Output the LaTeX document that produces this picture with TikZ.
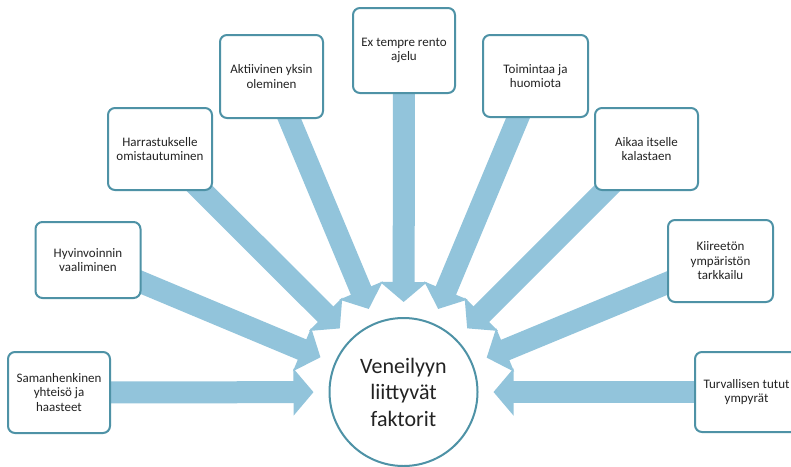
\documentclass[tikz,border=0pt]{standalone}
\usepackage{fontspec}
\setmainfont{Carlito}
\usetikzlibrary{arrows.meta}
\definecolor{arrowblue}{RGB}{146,196,219}
\definecolor{boxedge}{RGB}{78,146,166}
\definecolor{txt}{RGB}{35,35,35}
\begin{document}
\begin{tikzpicture}[x=1pt,y=-1pt,
  factorbox/.style={draw=boxedge, line width=2pt, fill=white, rounded corners=7pt,
    align=center, font=\fontsize{13}{14.5}\selectfont, text=txt, inner sep=2pt},
  bigarrow/.style={draw=arrowblue, line width=22pt,
    -{Triangle[width=46pt,length=20pt]}, shorten >=90pt}]
\useasboundingbox (0,0) rectangle (791,466);
\clip (0,0) rectangle (791,466);
\fill[white] (0,0) rectangle (791,466);
% hub
\coordinate (hubc) at (403.5,392);
% boxes (placed first as coordinates for arrows)
\coordinate (p1) at (59,392.5);
\coordinate (p2) at (88,260);
\coordinate (p3) at (160,149);
\coordinate (p4) at (271.5,76.5);
\coordinate (p5) at (404,50.5);
\coordinate (p6) at (535.5,76);
\coordinate (p7) at (646.5,149);
\coordinate (p8) at (720.5,261);
\coordinate (p9) at (746.5,392);
% arrows
\foreach \i in {1,...,9}{\draw[bigarrow] (p\i) -- (hubc);}
% boxes
\node[factorbox, minimum width=102pt, minimum height=81pt] (b1) at (p1) {Samanhenkinen\\yhteisö ja\\haasteet};
\node[factorbox, minimum width=105pt, minimum height=76pt] (b2) at (p2) {Hyvinvoinnin\\vaaliminen};
\node[factorbox, minimum width=104pt, minimum height=82pt] (b3) at (p3) {Harrastukselle\\omistautuminen};
\node[factorbox, minimum width=103pt, minimum height=83pt] (b4) at (p4) {Aktiivinen yksin\\oleminen};
\node[factorbox, minimum width=102pt, minimum height=85pt] (b5) at (p5) {Ex tempre rento\\ajelu};
\node[factorbox, minimum width=105pt, minimum height=82pt] (b6) at (p6) {Toimintaa ja\\huomiota};
\node[factorbox, minimum width=103pt, minimum height=82pt] (b7) at (p7) {Aikaa itselle\\kalastaen};
\node[factorbox, minimum width=105pt, minimum height=82pt] (b8) at (p8) {Kiireetön\\ympäristön\\tarkkailu};
\node[factorbox, minimum width=103pt, minimum height=80pt] (b9) at (p9) {Turvallisen tutut\\ympyrät};
% hub circle
\node[draw=boxedge, line width=2pt, fill=white, circle, minimum size=148pt,
  align=center, font=\fontsize{22}{26.5}\selectfont, text=txt, inner sep=0pt] (hub) at (hubc)
  {Veneilyyn\\liittyvät\\faktorit};
\end{tikzpicture}
\end{document}
